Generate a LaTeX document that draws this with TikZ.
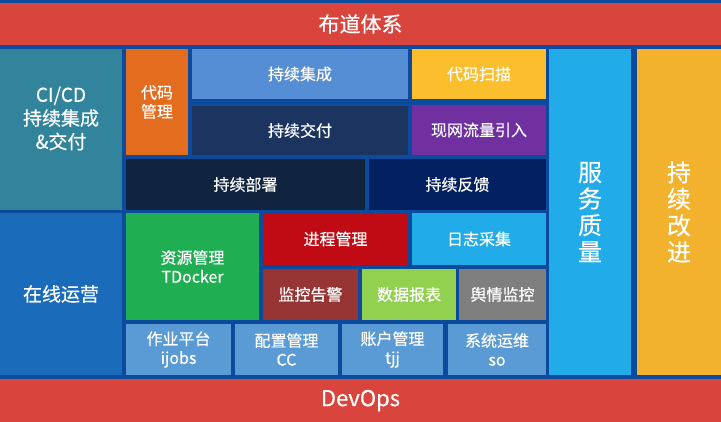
\documentclass[tikz,border=0pt]{standalone}
\usepackage{fontspec}
\setmainfont{Noto Sans CJK SC}[FakeBold=0.4]
\definecolor{bgblue}{HTML}{0B4A9C}
\definecolor{cred}{HTML}{D9443C}
\definecolor{cteal}{HTML}{31849B}
\definecolor{corange}{HTML}{E46C1F}
\definecolor{cmid}{HTML}{558ED5}
\definecolor{camber}{HTML}{FBBE2D}
\definecolor{cnavy}{HTML}{1C3560}
\definecolor{cpurple}{HTML}{7030A0}
\definecolor{cdark}{HTML}{10233F}
\definecolor{cdeep}{HTML}{032060}
\definecolor{csky}{HTML}{21ABE8}
\definecolor{cgold}{HTML}{F2B22E}
\definecolor{cblue}{HTML}{1A6CBB}
\definecolor{cgreen}{HTML}{1FAE52}
\definecolor{ccrimson}{HTML}{C00A14}
\definecolor{cbrown}{HTML}{963534}
\definecolor{clime}{HTML}{92D050}
\definecolor{cgrey}{HTML}{7F7F7F}
\definecolor{clight}{HTML}{5B9BD5}
\tikzset{
  blk/.style={draw=none,inner sep=0pt,text=white,align=center,
    font=\fontsize{16}{19}\selectfont},
  big/.style={font=\fontsize{24}{26.5}\selectfont},
}
\newcommand\mybox[8][]{\node[blk,#1,fill=#3,minimum width={(#6-#4)*1pt},minimum height={(#7-#5)*1pt}] (#2) at ({(#4+#6)/2},{-(#5+#7)/2}) {#8};}
\begin{document}
\begin{tikzpicture}[x=1pt,y=1pt]
\fill[bgblue] (0,0) rectangle (721,-422);
\useasboundingbox (0,0) rectangle (721,-422);
\mybox[font=\fontsize{21}{24}\selectfont]{top}{cred}{0}{3}{721}{45}{布道体系}
\node[blk,fill=cteal,minimum width=122pt,minimum height=161pt,
  label={[blk,font=\fontsize{19}{23.5}\selectfont,yshift=11pt]center:CI/CD\\持续集成\\\&交付}]
  (cicd) at (61,-129.5) {};
\mybox{dmgl}{corange}{126}{49}{188}{155}{代码\\管理}
\mybox{cxjc}{cmid}{192}{49}{408}{99}{持续集成}
\mybox{dmsm}{camber}{412}{49}{546}{99}{代码扫描}
\mybox{cxjf}{cnavy}{192}{106}{408}{155}{持续交付}
\mybox{xwll}{cpurple}{412}{105}{546}{155}{现网流量引入}
\mybox{cxbs}{cdark}{126}{159}{365}{210}{持续部署}
\mybox{cxfk}{cdeep}{369}{159}{546}{210}{持续反馈}
\mybox[big]{fwzl}{csky}{549}{49}{631}{375}{服\\务\\质\\量}
\mybox[big]{cxgj}{cgold}{637}{49}{721}{375}{持\\续\\改\\进}
\mybox[font=\fontsize{19}{23}\selectfont]{zxyy}{cblue}{0}{213}{122}{375}{在线运营}
\mybox{zygl}{cgreen}{126}{213}{259}{320}{资源管理\\TDocker}
\mybox{jcgl}{ccrimson}{263}{213}{408}{265}{进程管理}
\mybox{rzcj}{csky}{412}{213}{546}{265}{日志采集}
\mybox{jkgj}{cbrown}{263}{269}{358}{320}{监控告警}
\mybox{sjbb}{clime}{362}{269}{456}{320}{数据报表}
\mybox{yqjk}{cgrey}{459}{269}{546}{320}{舆情监控}
\mybox{zypt}{clight}{126}{324}{231}{375}{作业平台\\ijobs}
\mybox{pzgl}{clight}{235}{324}{338}{375}{配置管理\\CC}
\mybox{zhgl}{clight}{342}{324}{443}{375}{账户管理\\tjj}
\mybox{xtyw}{clight}{448}{324}{546}{375}{系统运维\\so}
\mybox[font=\fontsize{22}{25}\selectfont]{devops}{cred}{0}{379}{721}{422}{DevOps}
\end{tikzpicture}
\end{document}
